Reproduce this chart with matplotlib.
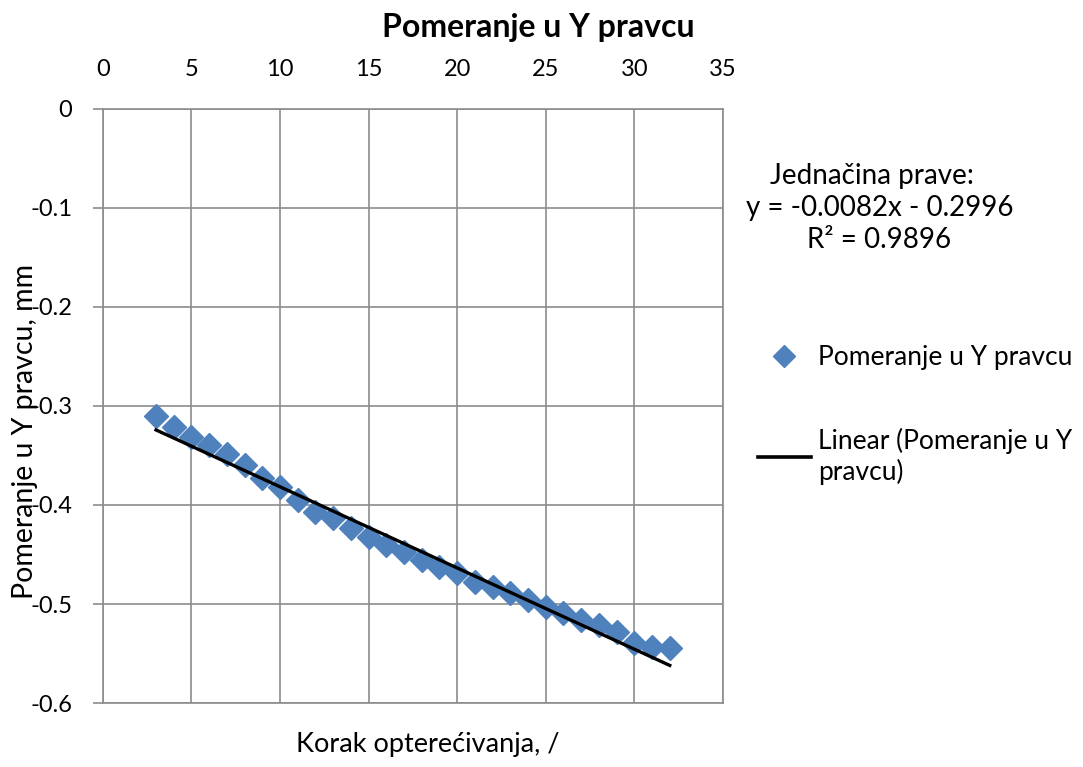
import numpy
import matplotlib
matplotlib.use('agg')
import matplotlib.pyplot as plt
from matplotlib.lines import Line2D

# load step and measured displacement in Y direction (mm)
korak = [3, 4, 5, 6, 7, 8, 9, 10, 11, 12, 13, 14, 15, 16, 17,
	18, 19, 20, 21, 22, 23, 24, 25, 26, 27, 28, 29, 30, 31, 32]
pomeranje = [-0.310, -0.321, -0.331, -0.339, -0.348, -0.360, -0.373, -0.382, -0.395, -0.407,
	-0.413, -0.423, -0.432, -0.440, -0.447, -0.456, -0.463, -0.469, -0.478, -0.483,
	-0.489, -0.496, -0.503, -0.509, -0.516, -0.521, -0.528, -0.539, -0.543, -0.544]

# linear trend line coefficients and R^2
nagib = -0.0082
odsecak = -0.2996
r2 = 0.9896

x_ticks = [0, 5, 10, 15, 20, 25, 30, 35]
y_ticks = [0, -0.1, -0.2, -0.3, -0.4, -0.5, -0.6]

plt.rcParams['font.family'] = ['Lato', 'DejaVu Sans']
plt.rcParams['font.size'] = 17

fig = plt.figure(figsize=(10.83, 7.67), dpi=100)
ax = fig.add_axes([0.095, 0.0834, 0.5725, 0.7746])

# measured points
ax.plot(korak, pomeranje, 'D', color='#4F81BD', markersize=12, mec='#4F81BD', zorder=3)

# trend line evaluated over the data range
x_fit = numpy.array([korak[0], korak[-1]])
ax.plot(x_fit, nagib*x_fit + odsecak, color='black', lw=2.4, zorder=4)

ax.set_xlim(0, 35)
ax.set_ylim(-0.6, 0)
ax.set_xticks(x_ticks)
ax.set_yticks(y_ticks)
ax.set_yticklabels(['0', '-0.1', '-0.2', '-0.3', '-0.4', '-0.5', '-0.6'])

# x axis sits on top because y = 0 is the maximum
ax.xaxis.tick_top()
ax.tick_params(axis='x', length=0, pad=21)
ax.tick_params(axis='y', length=7, width=1.2, color='#8C8C8C', pad=15)
ax.grid(True, color='#8C8C8C', lw=1.2)
ax.set_axisbelow(True)
for side in ['top', 'left', 'right', 'bottom']:
	ax.spines[side].set_color('#8C8C8C')
	ax.spines[side].set_linewidth(1.2)

fig.text(0.497, 0.964, 'Pomeranje u Y pravcu', ha='center', va='center',
	fontsize=23, fontweight='bold')
fig.text(0.395, 0.029, 'Korak opterećivanja, /', ha='center', va='center', fontsize=19.5)
fig.text(0.023, 0.437, 'Pomeranje u Y pravcu, mm', ha='center', va='center',
	fontsize=20.5, rotation=90)

# trend line equation
text = 'Jednačina prave:  \n'
text += 'y = {:.4f}x - {:.4f}\n'.format(nagib, -odsecak)
text += 'R² = {:.4f}'.format(r2)
fig.text(0.812, 0.729, text, ha='center', va='center', fontsize=20, linespacing=1.3)

# legend next to the plot
handles = [
	Line2D([], [], ls='none', marker='D', color='#4F81BD', markersize=11),
	Line2D([], [], color='black', lw=2.6),
]
labels = ['Pomeranje u Y pravcu', 'Linear (Pomeranje u Y\npravcu)']
fig.legend(handles, labels, loc='upper left', bbox_to_anchor=(0.700, 0.550),
	frameon=False, fontsize=19, handlelength=2.0, handletextpad=0.27,
	labelspacing=2.2, borderpad=0, borderaxespad=0)

fig.savefig('out.png')
